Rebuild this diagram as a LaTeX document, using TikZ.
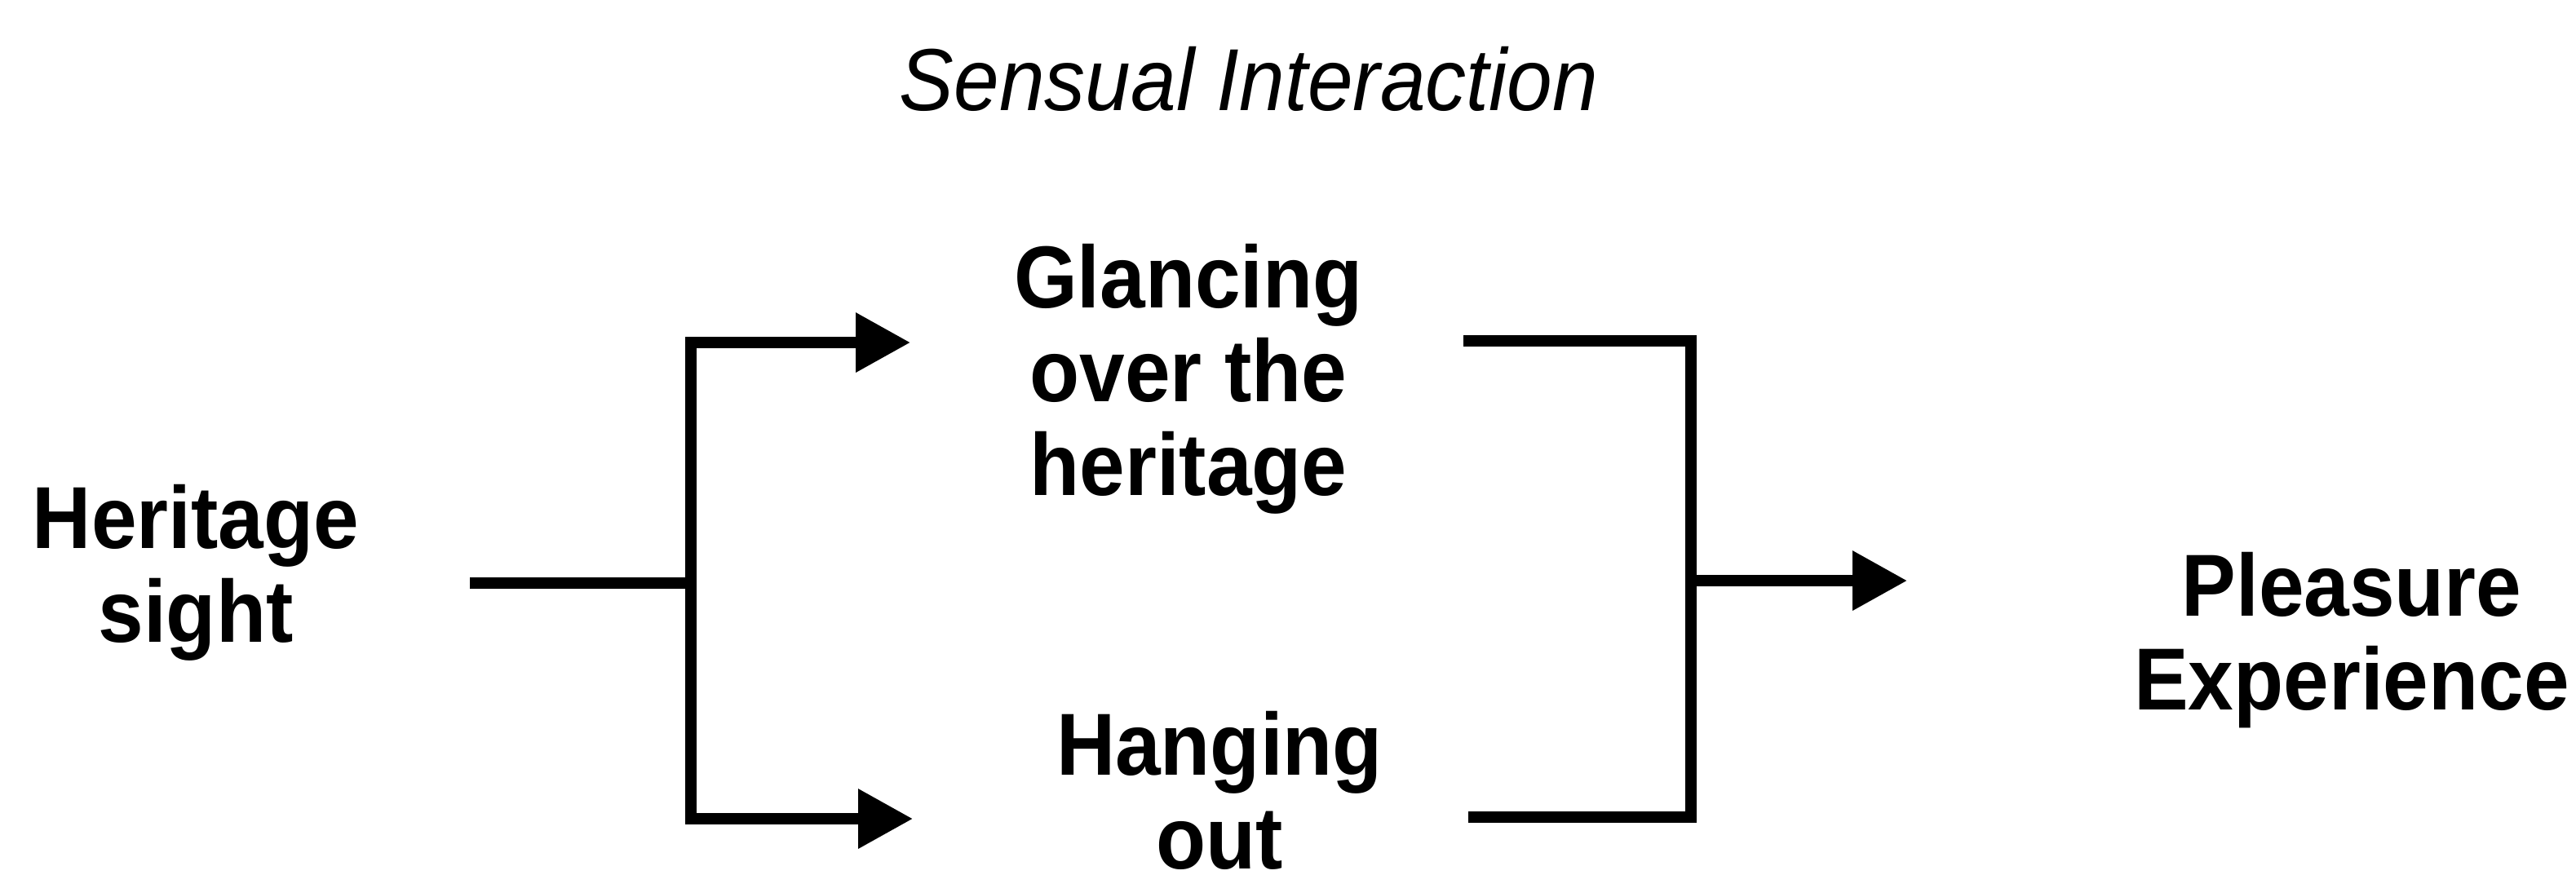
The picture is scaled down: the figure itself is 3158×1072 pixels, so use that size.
\documentclass[tikz,border=0pt]{standalone}
\usepackage{fontspec}
\setmainfont{Liberation Sans}
\usetikzlibrary{arrows.meta}
% centred lines (separated by \cr), baseline on the first line, slightly tall letters
\newcommand{\tallbox}[1]{\scalebox{1}[1.08]{\vtop{\baselineskip=10.65pt\lineskiplimit=0pt\lineskip=0pt
  \halign{\hfil##\hfil\cr#1\crcr}}}}

\begin{document}
\begin{tikzpicture}[x=0.1pt,y=-0.1pt,
  stage/.style={inner sep=0pt, anchor=base, font=\fontsize{10}{10.65}\selectfont\bfseries},
  heading/.style={inner sep=0pt, anchor=base, font=\fontsize{10}{10.65}\selectfont\itshape},
  wire/.style={line width=1.35pt, line join=miter},
  flow/.style={wire, -{Triangle[length=6.7pt,width=7pt]}}]
\useasboundingbox (0,0) rectangle (3158,1072);

% labels
\node[heading] (title)    at (1531,135) {\tallbox{Sensual Interaction}};
\node[stage]   (sight)    at (240,672)  {\tallbox{Heritage\cr sight}};
\node[stage]   (glance)   at (1457,377) {\tallbox{Glancing\cr over the\cr heritage}};
\node[stage]   (hang)     at (1495,950) {\tallbox{Hanging\cr out}};
\node[stage]   (pleasure) at (2883,755) {\tallbox{Pleasure\cr Experience}};

% connector ends and junctions
\coordinate (src)       at (576,715);
\coordinate (fork)      at (847,715);
\coordinate (glanceIn)  at (1116,420);
\coordinate (hangIn)    at (1119,1004);
\coordinate (glanceOut) at (1794,418);
\coordinate (hangOut)   at (1800,1002);
\coordinate (merge)     at (2073,712);
\coordinate (goal)      at (2338,712);

% branching into the two interactions
\draw[wire] (src) -- (fork);
\draw[flow] (fork) |- (glanceIn);
\draw[flow] (fork) |- (hangIn);

% merging into the experience
\draw[wire] (glanceOut) -| (merge);
\draw[wire] (hangOut) -| (merge);
\draw[flow] (merge) -- (goal);
\end{tikzpicture}
\end{document}
